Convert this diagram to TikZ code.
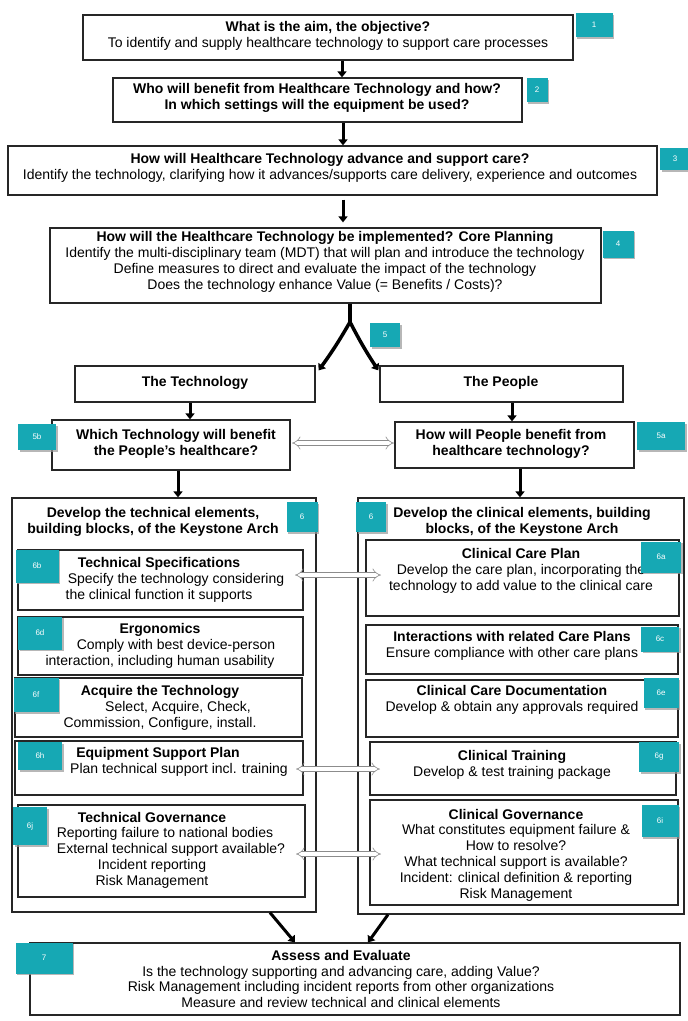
\documentclass[tikz,border=0pt]{standalone}
\usepackage{fontspec}
\setmainfont{Liberation Sans}
\usetikzlibrary{arrows.meta,shadows,fit}
\definecolor{teal1}{RGB}{22,168,180}
\tikzset{
 box/.style={draw=black!85, line width=1.2pt, fill=white, inner sep=0pt},
 txt/.style={align=center, font=\fontsize{14}{15.8}\selectfont, inner sep=0pt},
 btxt/.style={align=center, font=\fontsize{14}{16}\selectfont\bfseries, inner sep=0pt},
 lab/.style={fill=teal1, text=white, font=\fontsize{8}{9}\selectfont, inner sep=0pt,
   drop shadow={shadow xshift=1.5pt, shadow yshift=-1.5pt, fill=black!40, opacity=0.7}},
 arr/.style={line width=3pt, -{Triangle[length=6pt,width=9pt]}},
 dbl/.style={draw=black!45, double=white, double distance=4pt, line width=0.6pt, {Implies}-{Implies}},
}
\newcommand\sh[1]{\hspace*{#1pt}}
\begin{document}
\begin{tikzpicture}[x=1pt,y=-1pt]
\useasboundingbox (0,0) rectangle (688,1021);
% top boxes
\node[box, fit={(83,15) (573,60)}] (b1) {};
\node[box, fit={(113,78) (522,122)}] (b2) {};
\node[box, fit={(8,146) (657,195)}] (b3) {};
\node[box, fit={(50,228) (601,303)}] (b4) {};
\node[box, fit={(75,366) (315,402)}] (tech) {};
\node[box, fit={(380,366) (623,402)}] (people) {};
\node[box, fit={(52,420) (290,470)}] (b5b) {};
\node[box, fit={(395,422) (634,468)}] (b5a) {};
% big columns
\node[box, fit={(12,498) (316,912)}] (L6) {};
\node[box, fit={(358,498) (684,914)}] (R6) {};
% left inner
\node[box, fit={(18,550) (303,610)}] (b6b) {};
\node[box, fit={(18,617) (303,675)}] (b6d) {};
\node[box, fit={(15,678) (302,737)}] (b6f) {};
\node[box, fit={(15,741) (303,795)}] (b6h) {};
\node[box, fit={(18,805) (305,897)}] (b6j) {};
% right inner
\node[box, fit={(366,540) (679,616)}] (b6a) {};
\node[box, fit={(366,625) (678,674)}] (b6c) {};
\node[box, fit={(366,680) (678,737)}] (b6e) {};
\node[box, fit={(370,742) (676,795)}] (b6g) {};
\node[box, fit={(370,800) (678,905)}] (b6i) {};
% bottom
\node[box, fit={(30,943) (680,1015)}] (b7) {};

% arrows
\draw[arr] ([xshift=14pt]b1.south) -- ([xshift=24.5pt]b2.north);
\draw[arr] ([xshift=25.5pt]b2.south) -- ([xshift=10.5pt]b3.north);
\draw[arr] ([xshift=10.5pt,yshift=-4pt]b3.south) -- ([xshift=17.5pt,yshift=5pt]b4.north);
\coordinate (sp) at (350,322);
\draw[line width=3.5pt] ([xshift=24.5pt]b4.south) -- (sp);
\draw[arr, line width=3.5pt] (sp) to[bend left=3] ([xshift=3pt,yshift=-5pt]tech.north east);
\draw[arr, line width=3.5pt] (sp) to[bend right=3] ([xshift=-1pt,yshift=-5pt]people.north west);
\draw[arr] ([xshift=-5pt]tech.south) -- ([xshift=19pt]b5b.north);
\draw[arr] ([xshift=10.5pt]people.south) -- ([xshift=-2.5pt]b5a.north);
\draw[arr] ([xshift=7pt]b5b.south) -- ([xshift=14pt]L6.north);
\draw[arr] ([xshift=5.5pt]b5a.south) -- ([xshift=-1pt]R6.north);
\draw[arr] ([xshift=106pt]L6.south) -- ([xshift=-60pt]b7.north);
\draw[arr] ([xshift=-133pt]R6.south) -- ([xshift=13pt]b7.north);

% double arrows
\coordinate (d0l) at (292,443); \coordinate (d0r) at (394,443);
\coordinate (d1l) at (295,575); \coordinate (d1r) at (381,575);
\coordinate (d2l) at (296,769); \coordinate (d2r) at (380,769);
\coordinate (d3l) at (296,854); \coordinate (d3r) at (381,854);
\draw[dbl] (d0l) -- (d0r);
\draw[dbl] (d1l) -- (d1r);
\draw[dbl] (d2l) -- (d2r);
\draw[dbl] (d3l) -- (d3r);

% texts
\node[txt] (t1) at (328,36) {\textbf{What is the aim, the objective?}\\To identify and supply healthcare technology to support care processes};
\node[txt] (t2) at (317,98) {\textbf{Who will benefit from Healthcare Technology and how?}\\\textbf{In which settings will the equipment be used?}};
\node[txt] (t3) at (330,168) {\textbf{How will Healthcare Technology advance and support care?}\\Identify the technology, clarifying how it advances/supports care delivery, experience and outcomes};
\node[txt] (t4) at (325,262) {\textbf{How will the Healthcare Technology be implemented? Core Planning}\\Identify the multi-disciplinary team (MDT) that will plan and introduce the technology\\Define measures to direct and evaluate the impact of the technology\\Does the technology enhance Value (= Benefits / Costs)?};
\node[btxt] (ttech) at (195,383) {The Technology};
\node[btxt] (tpeople) at (501,383) {The People};
\node[btxt] (t5b) at (176,444) {Which Technology will benefit\\the People’s healthcare?};
\node[btxt] (t5a) at (511,444) {How will People benefit from\\healthcare technology?};
\node[btxt] (tL6) at (153,522) {Develop the technical elements,\\building blocks, of the Keystone Arch};
\node[btxt] (tR6) at (522,522) {Develop the clinical elements, building\\blocks, of the Keystone Arch};
\node[txt] (t6b) at (159,580) {\textbf{Technical Specifications}\\\sh{34}Specify the technology considering\\the clinical function it supports};
\node[txt] (t6d) at (160,646) {\textbf{Ergonomics}\\\sh{32}Comply with best device-person\\interaction, including human usability};
\node[txt] (t6f) at (160,708) {\textbf{Acquire the Technology}\\\sh{36}Select, Acquire, Check,\\Commission, Configure, install.};
\node[txt] (t6h) at (158,762) {\textbf{Equipment Support Plan}\\\sh{42}Plan technical support incl. training};
\node[txt] (t6j) at (152,850) {\textbf{Technical Governance}\\\sh{26}Reporting failure to national bodies\\\sh{38}External technical support available?\\Incident reporting\\Risk Management};
\node[txt] (t6a) at (521,571) {\textbf{Clinical Care Plan}\\Develop the care plan, incorporating the\\technology to add value to the clinical care};
\node[txt] (t6c) at (512,646) {\textbf{Interactions with related Care Plans}\\Ensure compliance with other care plans};
\node[txt] (t6e) at (512,700) {\textbf{Clinical Care Documentation}\\Develop \& obtain any approvals required};
\node[txt] (t6g) at (512,765) {\textbf{Clinical Training}\\Develop \& test training package};
\node[txt] (t6i) at (516,855) {\textbf{Clinical Governance}\\What constitutes equipment failure \&\\How to resolve?\\What technical support is available?\\Incident: clinical definition \& reporting\\Risk Management};
\node[txt] (t7) at (341,979) {\textbf{Assess and Evaluate}\\Is the technology supporting and advancing care, adding Value?\\Risk Management including incident reports from other organizations\\Measure and review technical and clinical elements};

% labels
\node[lab, minimum width=37pt, minimum height=24pt] (l1) at (594,25) {1};
\node[lab, minimum width=21pt, minimum height=24pt] (l2) at (537,90) {2};
\node[lab, minimum width=30pt, minimum height=22pt] (l3) at (675,159) {3};
\node[lab, minimum width=31pt, minimum height=27pt] (l4) at (618,244) {4};
\node[lab, minimum width=30pt, minimum height=24pt] (l5) at (385,335) {5};
\node[lab, minimum width=38pt, minimum height=26pt] (l5b) at (37,437) {5b};
\node[lab, minimum width=48pt, minimum height=28pt] (l5a) at (661,436) {5a};
\node[lab, minimum width=31pt, minimum height=30pt] (l6L) at (302,517) {6};
\node[lab, minimum width=30pt, minimum height=30pt] (l6R) at (371,517) {6};
\node[lab, minimum width=43pt, minimum height=33pt] (l6b) at (37,566) {6b};
\node[lab, minimum width=44pt, minimum height=33pt] (l6d) at (40,633) {6d};
\node[lab, minimum width=45pt, minimum height=34pt] (l6f) at (36,695) {6f};
\node[lab, minimum width=44pt, minimum height=28pt] (l6h) at (40,756) {6h};
\node[lab, minimum width=34pt, minimum height=38pt] (l6j) at (30,826) {6j};
\node[lab, minimum width=40pt, minimum height=31pt] (l6a) at (661,557) {6a};
\node[lab, minimum width=38pt, minimum height=25pt] (l6c) at (660,639) {6c};
\node[lab, minimum width=35pt, minimum height=30pt] (l6e) at (661,693) {6e};
\node[lab, minimum width=40pt, minimum height=30pt] (l6g) at (659,757) {6g};
\node[lab, minimum width=37pt, minimum height=32pt] (l6i) at (660,821) {6i};
\node[lab, minimum width=57pt, minimum height=31pt] (l7) at (44,958) {7};
\end{tikzpicture}
\end{document}
